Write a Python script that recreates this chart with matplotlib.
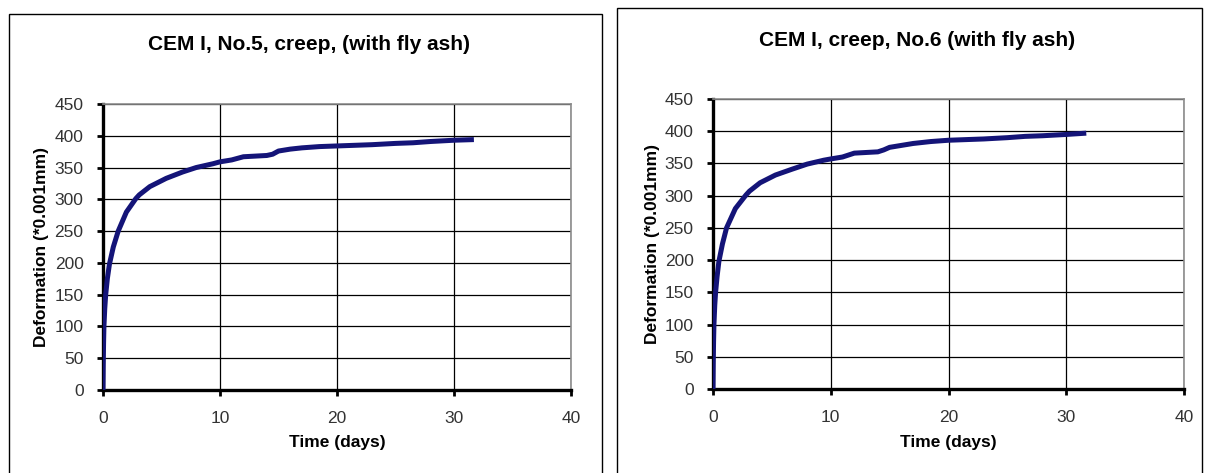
import matplotlib
matplotlib.use('Agg')
import matplotlib.pyplot as plt
from matplotlib.patches import Rectangle

plt.rcParams['font.family'] = ['Liberation Sans', 'DejaVu Sans']

# creep readings
days_5 = [0, 0.02, 0.05, 0.08, 0.15, 0.23, 0.37, 0.55, 0.88, 1.3, 2.0, 2.8, 3.1, 4.0, 5.4, 6.8, 7.96, 9.4,
          10, 11, 12, 13, 14, 14.5, 15, 16, 17, 18.5, 20, 21.5, 23, 25, 26.5, 28, 30, 31.7]
defo_5 = [0, 40, 75, 100, 128, 150, 175, 198, 225, 250, 280, 301, 307, 320, 333, 343, 350, 356,
          359, 362, 367, 368, 369, 371, 376, 379, 381, 383, 384, 385, 386, 388, 389, 391, 393, 394]

days_6 = [0, 0.02, 0.05, 0.08, 0.15, 0.22, 0.35, 0.5, 0.8, 1.15, 1.9, 2.8, 3.1, 4.0, 5.3, 6.7, 8.0, 9.4,
          10, 11, 12, 13, 14, 14.5, 15, 16, 17, 18.5, 20, 21.5, 23, 25, 26.5, 28, 30, 31.7]
defo_6 = [0, 40, 75, 100, 130, 150, 175, 198, 225, 250, 280, 301, 307, 320, 332, 341, 349, 355,
          357, 360, 366, 367, 368, 371, 375, 378, 381, 384, 386, 387, 388, 390, 392, 393, 395, 397]

titles = ['CEM I, No.5, creep, (with fly ash)', 'CEM I, creep, No.6 (with fly ash)']
xticks = [0, 10, 20, 30, 40]
yticks = list(range(0, 451, 50))

W, H = 1205, 473
fig = plt.figure(figsize=(W / 100, H / 100), dpi=100)

# outer chart frames (px: x0, top, x1)
frames = [(9, 14, 602), (617, 8, 1202)]
for x0, top, x1 in frames:
    fig.patches.append(Rectangle((x0 / W, -0.05), (x1 - x0) / W, 1 - top / H + 0.05,
                                 transform=fig.transFigure, fill=False,
                                 edgecolor='black', linewidth=1.0))

# axes boxes in px: left, top, right, bottom
boxes = [(103, 104, 571, 390), (713, 99, 1184, 389)]
title_pos = [(309, 45), (917, 40)]
ylab_x = [42, 652]
series = [(days_5, defo_5), (days_6, defo_6)]

for i in range(2):
    l, t, r, b = boxes[i]
    ax = fig.add_axes([l / W, 1 - b / H, (r - l) / W, (b - t) / H])
    x, y = series[i]
    ax.plot(x, y, color='#141478', linewidth=3.6, solid_capstyle='butt',
            solid_joinstyle='round', zorder=3)
    ax.set_xlim(0, 40)
    ax.set_ylim(0, 450)
    ax.set_xticks(xticks)
    ax.set_yticks(yticks)
    ax.grid(True, color='black', linewidth=0.9)
    ax.set_axisbelow(True)
    for s in ['top', 'right']:
        ax.spines[s].set_color('#8c8c8c')
        ax.spines[s].set_linewidth(1.2)
    for s in ['left', 'bottom']:
        ax.spines[s].set_color('black')
        ax.spines[s].set_linewidth(2.4)
    ax.tick_params(direction='out', length=4, width=2, color='black',
                   labelsize=12.5, labelcolor='#333333')
    ax.tick_params(axis='y', pad=10)
    ax.tick_params(axis='x', pad=11)
    fig.text(title_pos[i][0] / W, 1 - title_pos[i][1] / H, titles[i],
             ha='center', va='center', fontsize=15, fontweight='bold')
    fig.text(ylab_x[i] / W, 1 - ((t + b) / 2) / H, 'Deformation (*0.001mm)',
             ha='center', va='center', rotation=90, fontsize=12.5, fontweight='bold')
    fig.text(((l + r) / 2) / W, 1 - 442 / H, 'Time (days)',
             ha='center', va='center', fontsize=12.5, fontweight='bold')

fig.savefig('out.png', dpi=100)
